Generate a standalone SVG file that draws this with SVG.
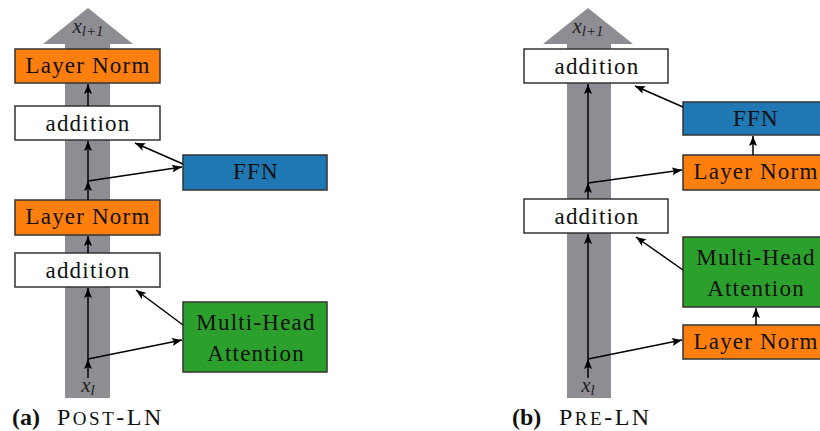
<svg xmlns="http://www.w3.org/2000/svg" width="820" height="431" viewBox="0 0 820 431">
<defs>
<marker id="ah" viewBox="0 0 10 8" refX="10" refY="4" markerWidth="10" markerHeight="8" markerUnits="userSpaceOnUse" orient="auto">
<path d="M0,0 L10,4 L0,8 L2,4 Z" fill="#000"/>
</marker>
</defs>
<style>
.band{fill:#8e8d93}
.box{stroke:#333;stroke-width:1.5}
.white{fill:#fff}
.orange{fill:#ff7f0e}
.blue{fill:#1f77b4}
.green{fill:#2ca02c}
.lbl{font-family:"Liberation Serif","DejaVu Serif",serif;font-size:23px;letter-spacing:1.2px;fill:#111;text-anchor:middle}
.math{font-family:"Liberation Serif","DejaVu Serif",serif;font-style:italic;fill:#222;text-anchor:middle}
.con line{stroke:#000;stroke-width:1.5;marker-end:url(#ah)}
.cap{font-family:"Liberation Serif","DejaVu Serif",serif;font-size:24px;fill:#111}
</style>
<rect width="820" height="431" fill="#fff"/>

<g id="band-a">
<polygon class="band" points="88,8 133,44 110,44 110,398 65,398 65,44 43,44"/>
<text class="math" x="88" y="33" font-size="21">x<tspan font-size="15" dy="3">l+1</tspan></text>
<text class="math" x="88" y="392" font-size="21">x<tspan font-size="15" dy="3">l</tspan></text>
</g>
<g id="band-b">
<polygon class="band" points="588,8 633,44 611,44 611,398 567,398 567,44 543,44"/>
<text class="math" x="588" y="33" font-size="21">x<tspan font-size="15" dy="3">l+1</tspan></text>
<text class="math" x="588" y="392" font-size="21">x<tspan font-size="15" dy="3">l</tspan></text>
</g>

<g id="a-ln-top"><rect class="box orange" x="15" y="49" width="145" height="34"/><text class="lbl" x="88" y="73">Layer Norm</text></g>
<g id="a-add-top"><rect class="box white" x="15" y="106" width="145" height="34"/><text class="lbl" x="88" y="131">addition</text></g>
<g id="a-ffn"><rect class="box blue" x="183" y="155" width="144" height="35"/><text class="lbl" x="256" y="179">FFN</text></g>
<g id="a-ln-bot"><rect class="box orange" x="15" y="200" width="145" height="35"/><text class="lbl" x="88" y="224">Layer Norm</text></g>
<g id="a-add-bot"><rect class="box white" x="15" y="253" width="145" height="34"/><text class="lbl" x="88" y="278">addition</text></g>
<g id="a-mha"><rect class="box green" x="183" y="302" width="144" height="70"/><text class="lbl" x="256" y="330">Multi-Head</text><text class="lbl" x="256" y="361">Attention</text></g>

<g id="b-add-top"><rect class="box white" x="524" y="49" width="144" height="34"/><text class="lbl" x="597" y="74">addition</text></g>
<g id="b-ffn"><rect class="box blue" x="683" y="102" width="144" height="33"/><text class="lbl" x="756" y="126">FFN</text></g>
<g id="b-ln-top"><rect class="box orange" x="683" y="155" width="144" height="35"/><text class="lbl" x="756" y="179">Layer Norm</text></g>
<g id="b-add-bot"><rect class="box white" x="524" y="199" width="144" height="34"/><text class="lbl" x="597" y="224">addition</text></g>
<g id="b-mha"><rect class="box green" x="683" y="237" width="144" height="70"/><text class="lbl" x="756" y="265">Multi-Head</text><text class="lbl" x="756" y="296">Attention</text></g>
<g id="b-ln-bot"><rect class="box orange" x="683" y="325" width="144" height="34"/><text class="lbl" x="756" y="349">Layer Norm</text></g>

<g id="connectors" class="con">
<line x1="88" y1="378" x2="88" y2="359"/>
<line x1="88" y1="359" x2="88" y2="288"/>
<line x1="88" y1="359" x2="182" y2="340"/>
<line x1="183" y1="325" x2="136" y2="290"/>
<line x1="88" y1="253" x2="88" y2="236"/>
<line x1="88" y1="200" x2="88" y2="181"/>
<line x1="88" y1="181" x2="88" y2="141"/>
<line x1="88" y1="181" x2="182" y2="167"/>
<line x1="183" y1="164" x2="135" y2="143"/>
<line x1="88" y1="106" x2="88" y2="84"/>
<line x1="588" y1="378" x2="588" y2="359"/>
<line x1="588" y1="359" x2="588" y2="234"/>
<line x1="588" y1="359" x2="682" y2="340"/>
<line x1="756" y1="325" x2="756" y2="308"/>
<line x1="683" y1="270" x2="636" y2="237"/>
<line x1="588" y1="199" x2="588" y2="183"/>
<line x1="588" y1="183" x2="588" y2="84"/>
<line x1="588" y1="183" x2="682" y2="170"/>
<line x1="753" y1="155" x2="753" y2="136"/>
<line x1="683" y1="107" x2="635" y2="86"/>
</g>

<text class="cap" x="12" y="425"><tspan font-weight="bold">(a)</tspan><tspan x="57" letter-spacing="2.5">P<tspan font-size="19">OST</tspan>-LN</tspan></text>
<text class="cap" x="512" y="425"><tspan font-weight="bold">(b)</tspan><tspan x="559" letter-spacing="2.5">P<tspan font-size="19">RE</tspan>-LN</tspan></text>
</svg>
